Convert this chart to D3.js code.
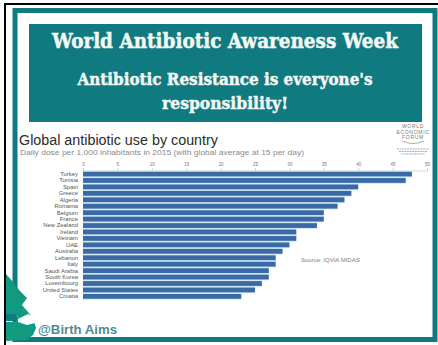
<!DOCTYPE html>
<html>
<head>
<meta charset="utf-8">
<script src="https://cdn.jsdelivr.net/npm/d3@7"></script>
<style>
html,body{margin:0;padding:0;background:#fff;}
svg{display:block;}
</style>
</head>
<body>
<svg id="poster" width="438" height="345"></svg>
<script>
// Daily antibiotic dose per 1,000 inhabitants, 2015
const countries = ["Turkey","Tunisia","Spain","Greece","Algeria","Romania","Belgium","France","New Zealand","Ireland","Vietnam","UAE","Australia","Lebanon","Italy","Saudi Arabia","South Korea","Luxembourg","United States","Croatia"];
const doses = [47.8,46.9,40,39,38,37,35,35,34,31,31,30,29,28,28,27,27,26,25,23];
const xTicks = [0,5,10,15,20,25,30,35,40,45,50];
const headline = "World Antibiotic Awareness Week";
const sublines = ["Antibiotic Resistance is everyone's","responsibility!"];

const svg = d3.select("#poster");
const teal = "#0f7a80", sans = "'Liberation Sans',Arial,sans-serif", serif = "'DejaVu Serif',serif";

// Outer frame
svg.append("rect").attr("x",4).attr("y",3).attr("width",434).attr("height",342).attr("fill","#fff");
svg.append("rect").attr("x",4).attr("y",3).attr("width",2).attr("height",342).attr("fill","#000");
svg.append("rect").attr("x",4).attr("y",3).attr("width",434).attr("height",2).attr("fill","#000");
svg.append("rect").attr("x",15).attr("y",10.5).attr("width",420).attr("height",329)
  .attr("fill","#fff").attr("stroke",teal).attr("stroke-width",5);

// Banner, with a thin outline to thicken the display type
svg.append("rect").attr("x",29).attr("y",24).attr("width",393).attr("height",98).attr("fill",teal);
const banner = [
  {t:headline, y:48, size:20.5, w:346},
  {t:sublines[0], y:85, size:17.5, w:295},
  {t:sublines[1], y:109, size:17.5, w:126}
];
svg.selectAll("text.banner").data(banner).join("text").attr("class","banner")
  .attr("x",225).attr("y",d=>d.y).attr("text-anchor","middle")
  .attr("textLength",d=>d.w).attr("lengthAdjust","spacingAndGlyphs")
  .attr("font-family",serif).attr("font-weight","bold").attr("font-size",d=>d.size)
  .attr("fill","#f4f8f4").attr("stroke","#f4f8f4").attr("stroke-width",0.5).text(d=>d.t);

// Chart heading
svg.append("text").attr("x",19).attr("y",144.5).attr("font-family",sans).attr("font-size",14)
  .attr("fill","#2b2b2b").attr("textLength",199).attr("lengthAdjust","spacingAndGlyphs")
  .text("Global antibiotic use by country");
svg.append("text").attr("x",20).attr("y",155).attr("font-family",sans).attr("font-size",7.2)
  .attr("fill","#8a8a8a").attr("textLength",284).attr("lengthAdjust","spacingAndGlyphs")
  .text("Daily dose per 1,000 inhabitants in 2015 (with global average at 15 per day)");

// Bars, each sitting on a pale blue band
const x = d3.scaleLinear().domain([0,50]).range([83,427]);
const y = d3.scaleBand().domain(countries).range([170.8,299.6]).paddingInner(0.26).paddingOuter(0.13);

svg.selectAll("rect.halo").data(doses).join("rect").attr("class","halo")
  .attr("x",x(0)).attr("y",(d,i)=>y(countries[i])-0.9)
  .attr("width",d=>x(d)-x(0)).attr("height",y.bandwidth()+1.8).attr("fill","#cfe3ee");
svg.selectAll("rect.bar").data(doses).join("rect").attr("class","bar")
  .attr("x",x(0)).attr("y",(d,i)=>y(countries[i]))
  .attr("width",d=>x(d)-x(0)).attr("height",y.bandwidth()).attr("fill","#3a6aa5");

// Value axis along the top
const topAxis = svg.append("g").attr("transform","translate(0,170.5)")
  .call(d3.axisTop(x).tickValues(xTicks).tickSize(2).tickPadding(3));
topAxis.select(".domain").attr("stroke","#cfd8dc");
topAxis.selectAll(".tick line").attr("stroke","#c4c4c4");
topAxis.selectAll("text").attr("font-family",sans).attr("font-size",4.6).attr("fill","#777");

// Country labels
const leftAxis = svg.append("g").attr("transform","translate(83,0)")
  .call(d3.axisLeft(y).tickSize(0).tickPadding(5));
leftAxis.select(".domain").remove();
leftAxis.selectAll("text").attr("font-family",sans).attr("font-size",5.9).attr("fill","#555");

// Source note
svg.append("text").attr("x",301).attr("y",262).attr("font-family",sans).attr("font-size",6)
  .attr("fill","#7d7d7d").text("Source: IQVIA MIDAS");

// Publisher mark
const wef = svg.append("g").attr("font-family",sans).attr("fill","#777").attr("text-anchor","middle");
[["WORLD",128],["ECONOMIC",133.5],["FORUM",139]].forEach(([t,py])=>
  wef.append("text").attr("x",413).attr("y",py).attr("font-size",5).attr("letter-spacing",0.7).text(t));
svg.append("path").attr("d","M402 141 Q413 146 424 141").attr("fill","none").attr("stroke","#888").attr("stroke-width",0.7);
[149,151.5,154].forEach((py,i)=>svg.append("line")
  .attr("x1",397+i*2).attr("x2",429-i*2).attr("y1",py).attr("y2",py)
  .attr("stroke","#9db4c6").attr("stroke-width",1.1).attr("stroke-dasharray","2 0.6"));

// Birth Aims emblem and handle
svg.append("path").attr("fill","#129a80")
  .attr("d","M6 274 L13 282 L20 291 L27 298 L22 305 L28 312 L33 318 L36 328 L33 335 L27 340 L6 341 L6 322 L16 322 L18 316 L6 314 Z");
svg.append("path").attr("fill","#fff")
  .attr("d","M18 319 L28 314 L34 317 L35 323 L27 325 L18 322 Z");
svg.append("rect").attr("x",6).attr("y",314).attr("width",10).attr("height",7).attr("fill",teal);
svg.append("text").attr("x",38).attr("y",334).attr("font-family",sans).attr("font-weight","bold")
  .attr("font-size",13.2).attr("fill","#4f8b92").text("@Birth Aims");
</script>
</body>
</html>
